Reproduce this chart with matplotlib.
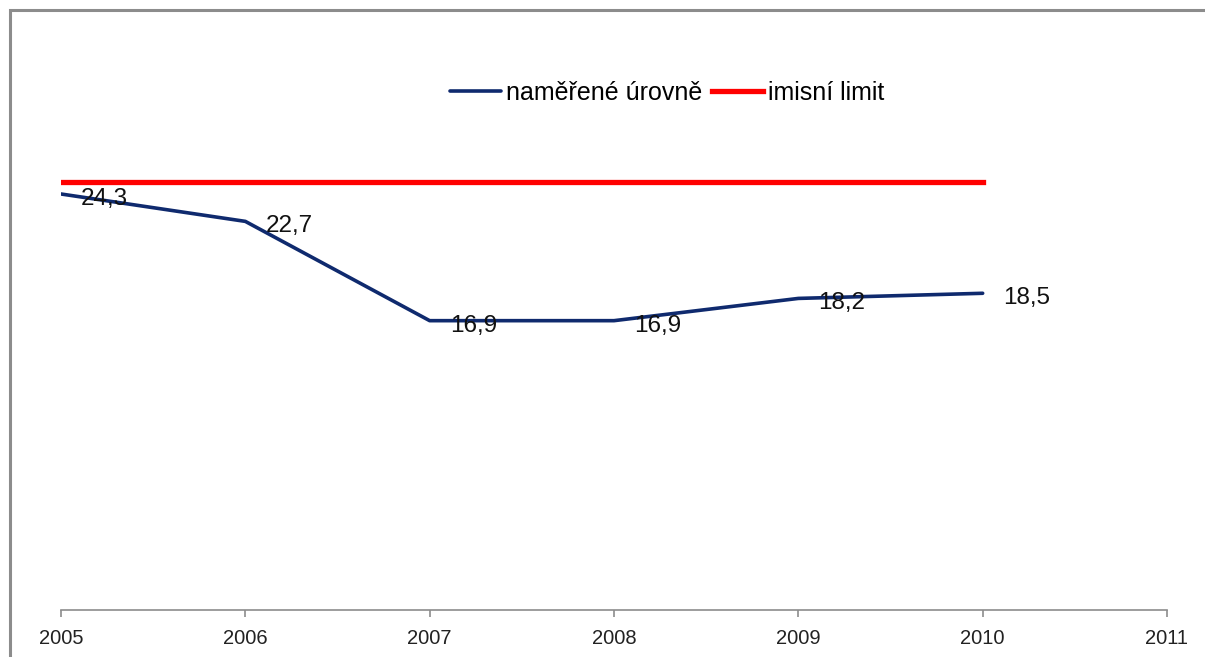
import matplotlib
matplotlib.use("Agg")
import matplotlib.pyplot as plt
from matplotlib.patches import Rectangle

years = [2005, 2006, 2007, 2008, 2009, 2010]
measured = [24.3, 22.7, 16.9, 16.9, 18.2, 18.5]
limit = [25, 25, 25, 25, 25, 25]
xticks = [2005, 2006, 2007, 2008, 2009, 2010, 2011]
labels = ["24,3", "22,7", "16,9", "16,9", "18,2", "18,5"]

plt.rcParams['font.family'] = ['Liberation Sans', 'DejaVu Sans']

W, H = 1205, 657
fig = plt.figure(figsize=(W / 100, H / 100), dpi=100)
fig.patches.append(Rectangle((10 / W, -0.1), 1.2, 1 - 10 / H + 0.1,
                             transform=fig.transFigure, fill=False,
                             edgecolor='#8c8c8c', linewidth=2.2))

left, right = 61 / W, 1167 / W
bottom = (H - 610) / H
top = (H - 96.4) / H
ax = fig.add_axes([left, bottom, right - left, top - bottom])
ax.set_xlim(2005, 2011)
ax.set_ylim(0, 30)

l1, = ax.plot(years, measured, color='#0f2a6e', linewidth=2.6, solid_capstyle='round',
              label='naměřené úrovně')
l2, = ax.plot(years, limit, color='#ff0000', linewidth=3.8, label='imisní limit')

for x, y, t in zip(years, measured, labels):
    ax.annotate(t, (x, y), xytext=(20, -5), textcoords='offset pixels',
                ha='left', va='center', fontsize=17.5, color='#111111')

for s in ['left', 'right', 'top']:
    ax.spines[s].set_visible(False)
ax.spines['bottom'].set_color('#8c8c8c')
ax.spines['bottom'].set_linewidth(1.2)
ax.set_yticks([])
ax.set_xticks(xticks)
ax.set_xticklabels([str(v) for v in xticks])
ax.tick_params(axis='x', direction='out', length=5, width=1.2, color='#8c8c8c',
               labelsize=14.5, labelcolor='#222222', pad=9)

leg = fig.legend(handles=[l1, l2], loc='center', bbox_to_anchor=(667 / W, 1 - 93 / H),
                 ncol=2, frameon=False, fontsize=18, handlelength=2.05,
                 handletextpad=0.2, columnspacing=0.4)

fig.savefig('out.png', dpi=100)
